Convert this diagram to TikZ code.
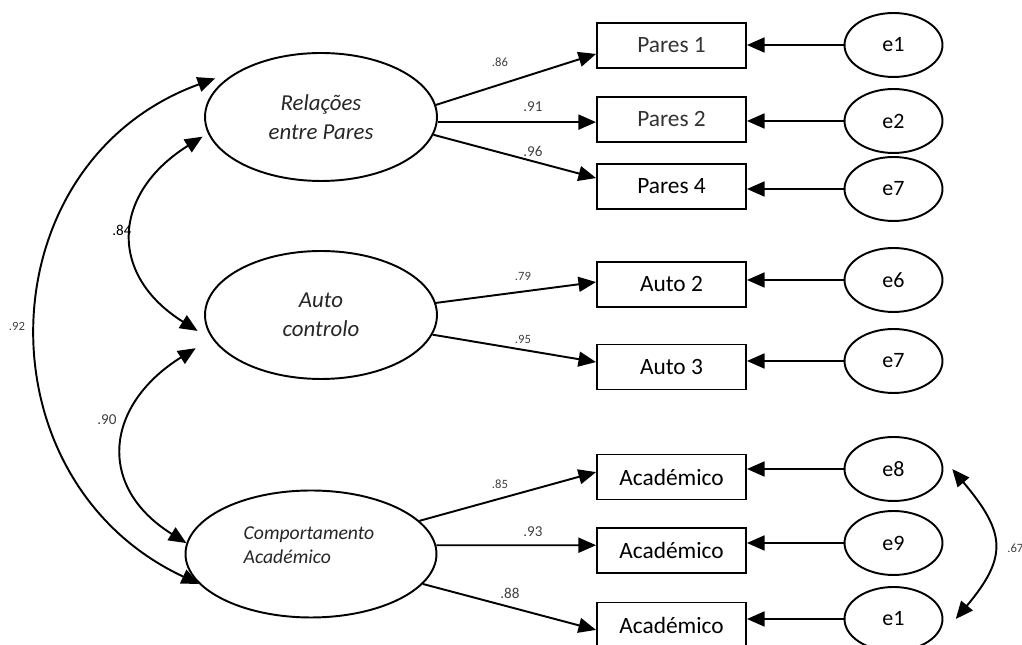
\documentclass[tikz,border=0pt]{standalone}
\usepackage{fontspec}
\setmainfont{Carlito}
\usetikzlibrary{shapes.geometric,arrows.meta}

\begin{document}
\begin{tikzpicture}[x=0.02cm, y=0.02cm,
	latent/.style={draw, ellipse, line width=1.1pt, inner sep=0pt, minimum width=4.64cm, minimum height=2.56cm, align=center, text=black!85, font=\fontsize{13}{16.5}\selectfont\itshape},
	item/.style={draw, rectangle, line width=1.1pt, minimum width=2.98cm, minimum height=0.9cm, font=\fontsize{13.3}{16}\selectfont},
	err/.style={draw, ellipse, line width=1.1pt, inner sep=0pt, minimum width=1.96cm, minimum height=1.28cm, font=\fontsize{12.5}{15}\selectfont},
	load/.style={line width=1.1pt, -{Triangle[length=10pt, width=8.5pt]}},
	cov/.style={line width=1.1pt, {Triangle[length=10pt, width=8.5pt]}-{Triangle[length=10pt, width=8.5pt]}},
	coef/.style={inner sep=0pt, text=black!75, font=\fontsize{8.6}{10}\selectfont},
	coefs/.style={inner sep=0pt, text=black!75, font=\fontsize{7.2}{8}\selectfont}]

		\useasboundingbox (0,0) rectangle (1022,645);

		\node[latent] (rel) at (321,528) {Relações\\entre Pares};
		\node[latent] (auto) at (321,330) {Auto\\controlo};
		\node[latent, minimum width=5.02cm, minimum height=2.54cm] (comp) at (311,91) {};
		\node[align=left, inner sep=0pt, text=black!85, font=\fontsize{11.2}{13.6}\selectfont\itshape] (comptxt) at (309,100) {Comportamento\\Académico};

		\node[item, text=black!80] (p1) at (671.5,599.5) {Pares 1};
		\node[item, text=black!80] (p2) at (671.5,525.5) {Pares 2};
		\node[item] (p4) at (671.5,458.5) {Pares 4};
		\node[item] (a2) at (671.5,360.5) {Auto 2};
		\node[item] (a3) at (671.5,278) {Auto 3};
		\node[item] (ac1) at (671.5,168) {Académico};
		\node[item] (ac2) at (671.5,94.5) {Académico};
		\node[item] (ac3) at (671.5,20) {Académico};

		\node[err] (e1) at (893.5,600) {e1};
		\node[err] (e2) at (893.5,524) {e2};
		\node[err] (e7) at (893.5,456) {e7};
		\node[err] (e6) at (893.5,365) {e6};
		\node[err] (e7b) at (893.5,284) {e7};
		\node[err] (e8) at (893.5,176) {e8};
		\node[err] (e9) at (893.5,102) {e9};
		\node[err] (e1b) at (893.5,26) {e1};

		\draw[load] (rel.6) -- ([yshift=-4.8pt]p1.west);
		\draw[load] ([yshift=-1.5pt]rel.east |- p2.west) -- ([yshift=-1.5pt]p2.west);
		\draw[load] (rel.-9) -- ([yshift=4.8pt]p4.west);
		\draw[load] (auto.6) -- ([yshift=1.4pt]a2.west);
		\draw[load] (auto.-10) -- ([yshift=2.8pt]a3.west);
		\draw[load] (comp.17) -- ([yshift=2.8pt]ac1.west);
		\draw[load] (comp.4) -- ([yshift=3pt]ac2.west);
		\draw[load] (comp.-15) -- ([yshift=-2.8pt]ac3.west);

		\foreach \e/\r in {e1/p1, e2/p2, e7/p4, e6/a2, e7b/a3, e8/ac1, e9/ac2, e1b/ac3}
			\draw[load] (\e.west) -- (\e.west -| \r.east);

		\draw[cov] ([shift={(-7,0)}]rel.190) to[out=212, in=148, looseness=1.4] ([shift={(-10,0)}]auto.188);
		\draw[cov] ([shift={(-20,-5)}]auto.195) to[out=212, in=148, looseness=1.4] (comp.175);
		\draw[cov] ([shift={(-8,3)}]rel.160) to[out=200, in=155, looseness=1.24] (comp.195);
		\draw[cov] ([xshift=5pt]e8.east) to[out=-50, in=50, looseness=1.4] ([xshift=7pt]e1b.east);

		\node[coefs] (l86) at (500,583) {.86};
		\node[coef] (l91) at (533,538) {.91};
		\node[coef] (l96) at (533,494) {.96};
		\node[coefs] (l79) at (523,369) {.79};
		\node[coefs] (l95) at (523,306) {.95};
		\node[coefs] (l85) at (500,161) {.85};
		\node[coef] (l93) at (533,113) {.93};
		\node[coef] (l88) at (510,52) {.88};
		\node[coef, text=black] (l84) at (122,415) {.84};
		\node[coef] (l90) at (107,225) {.90};
		\node[coefs] (l92) at (17,319) {.92};
		\node[coefs, anchor=west] (l67) at (1007,97) {.67};

	\end{tikzpicture}
\end{document}
